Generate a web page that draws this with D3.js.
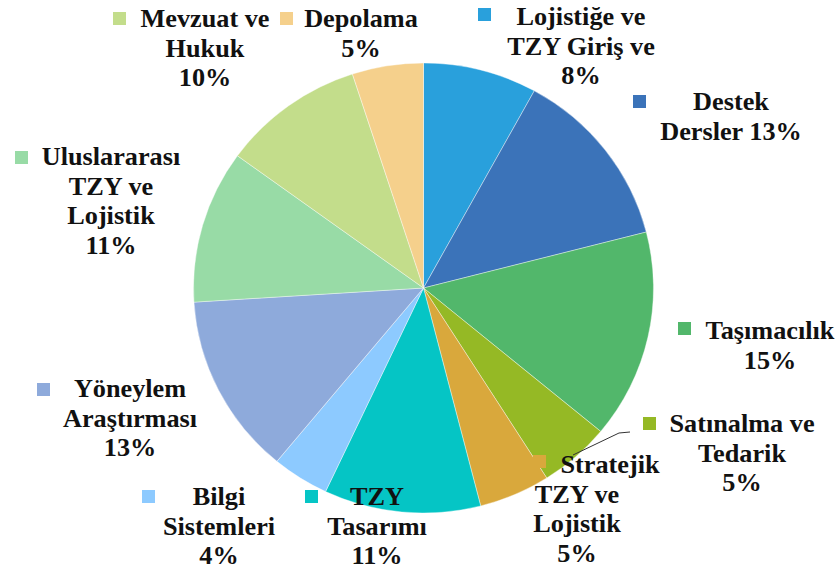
<!DOCTYPE html>
<html>
<head>
<meta charset="utf-8">
<script src="https://cdn.jsdelivr.net/npm/d3@7"></script>
<style>
  body { margin: 0; background: #fff; }
</style>
</head>
<body>
<svg id="chart" width="840" height="574"></svg>
<script>
// ders gruplarının dağılımı (saat yönünde, tepeden başlayarak)
const categories = [
  'Lojistiğe ve TZY Giriş ve', 'Destek Dersler', 'Taşımacılık', 'Satınalma ve Tedarik',
  'Stratejik TZY ve Lojistik', 'TZY Tasarımı', 'Bilgi Sistemleri', 'Yöneylem Araştırması',
  'Uluslararası TZY ve Lojistik', 'Mevzuat ve Hukuk', 'Depolama'
]
const values = [8, 13, 15, 5, 5, 11, 4, 13, 11, 10, 5]
const colors = ['#29a0dc', '#3b73b9', '#52b76b', '#95b925', '#d9a83c', '#05c5c5',
  '#8dcaff', '#8eaadb', '#98dba6', '#c3dd8b', '#f5d08c']
// etiket satırları
const labelLines = [
  ['Lojistiğe ve', 'TZY Giriş ve', '8%'],
  ['Destek', 'Dersler 13%'],
  ['Taşımacılık', '15%'],
  ['Satınalma ve', 'Tedarik', '5%'],
  ['Stratejik', 'TZY ve', 'Lojistik', '5%'],
  ['TZY', 'Tasarımı', '11%'],
  ['Bilgi', 'Sistemleri', '4%'],
  ['Yöneylem', 'Araştırması', '13%'],
  ['Uluslararası', 'TZY ve', 'Lojistik', '11%'],
  ['Mevzuat ve', 'Hukuk', '10%'],
  ['Depolama', '5%']
]

// yerleşim: [orta x, ilk satır taban y, işaret x, işaret y]
const labelLayout = [
  [581, 25, 478, 8],
  [731, 110, 633, 95],
  [770, 339, 678, 322],
  [742, 432, 643, 417],
  [577, 473, 533, 455],
  [377, 505, 305, 490],
  [219, 505, 142, 490],
  [130, 397, 37, 383],
  [111, 165, 15, 151],
  [205, 27, 113, 12],
  [361, 27, 280, 12]
]
const firstLineShift = { 4: 33 }  // Stratejik ilk satırı sağa kayık

let settings = {
  width: 840,
  height: 574,
  cx: 423.5,
  cy: 288,
  rx: 230,
  ry: 225,
  lineHeight: 29.5,
  fontSize: 25,
  stretch: 1.05,
  marker: 13,
  font: "'Liberation Serif', 'Times New Roman', Times, serif"
}

const svg = d3.select('#chart')

const data = categories.map((name, i) => ({ name, value: values[i], color: colors[i], i }))

const pie = d3.pie().sort(null).value((d) => d.value)
const arc = d3.arc().innerRadius(0).outerRadius(settings.rx)

let pieGroup = svg.append('g')
  .attr('transform', `translate(${settings.cx},${settings.cy}) scale(1,${settings.ry / settings.rx})`)

pieGroup.selectAll('.slice')
  .data(pie(data))
  .enter()
  .append('path')
  .attr('class', 'slice')
  .attr('d', arc)
  .attr('fill', (d) => d.data.color)
  .attr('stroke', '#ffffff')
  .attr('stroke-width', 0.4)

// Satınalma etiketi için kılavuz çizgi
svg.append('polyline')
  .attr('points', '630,432 619,433 573,455')
  .attr('fill', 'none')
  .attr('stroke', '#333')
  .attr('stroke-width', 1)

// etiketler
let labels = svg.selectAll('.label')
  .data(data)
  .enter()
  .append('g')
  .attr('class', 'label')

labels.append('rect')
  .attr('x', (d) => labelLayout[d.i][2])
  .attr('y', (d) => labelLayout[d.i][3])
  .attr('width', settings.marker)
  .attr('height', settings.marker)
  .attr('fill', (d) => d.color)

labels.each(function (d) {
  const g = d3.select(this)
  const [x, y] = labelLayout[d.i]
  labelLines[d.i].forEach((line, k) => {
    const tx = x + (k === 0 && firstLineShift[d.i] ? firstLineShift[d.i] : 0)
    const ty = y + k * settings.lineHeight
    g.append('text')
      .attr('transform', `translate(${tx},${ty}) scale(${settings.stretch},1)`)
      .attr('text-anchor', 'middle')
      .attr('font-family', settings.font)
      .attr('font-weight', 'bold')
      .attr('font-size', settings.fontSize)
      .attr('fill', '#111')
      .text(line)
  })
})
</script>
</body>
</html>
